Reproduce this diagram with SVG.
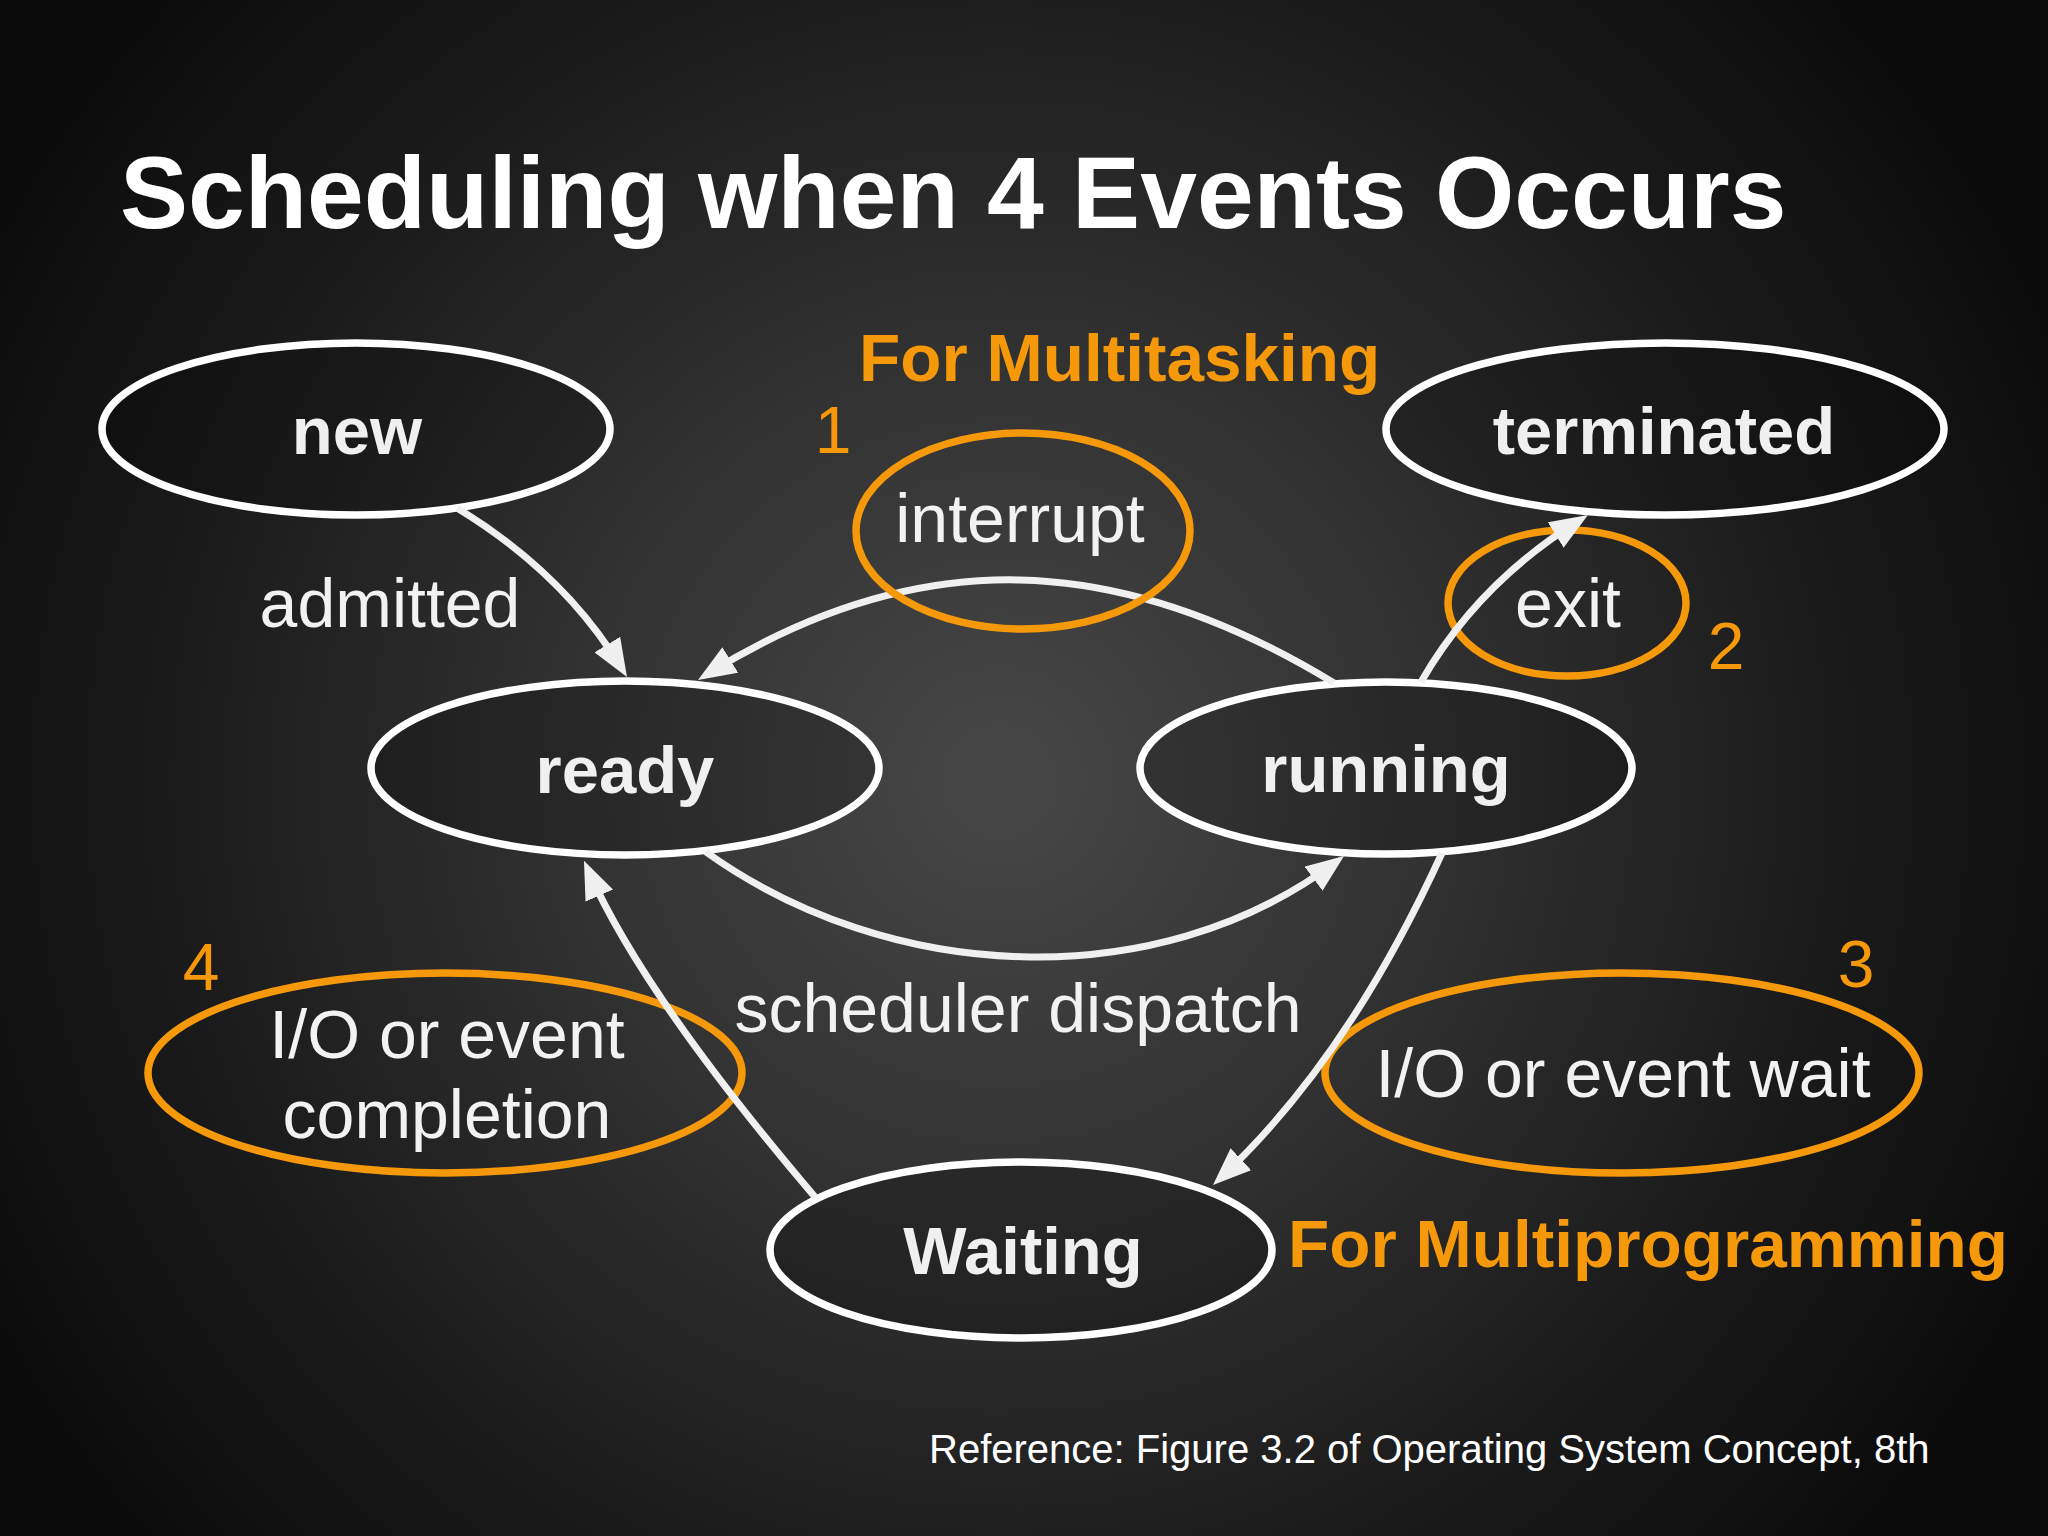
<svg xmlns="http://www.w3.org/2000/svg" width="2048" height="1536" viewBox="0 0 2048 1536">
  <defs>
    <radialGradient id="bg" gradientUnits="userSpaceOnUse" cx="1000" cy="780" r="1150">
      <stop offset="0" stop-color="#474747"/>
      <stop offset="0.35" stop-color="#333333"/>
      <stop offset="0.7" stop-color="#1c1c1c"/>
      <stop offset="1" stop-color="#0b0b0b"/>
    </radialGradient>
    <marker id="arrow" viewBox="0 0 38 30" markerWidth="38" markerHeight="30" refX="28" refY="15" orient="auto" markerUnits="userSpaceOnUse">
      <path d="M0,0 L38,15 L0,30 z" fill="#f0f0f0"/>
    </marker>
    <style>
      .node { fill: #000000; fill-opacity: 0.2; stroke: #ffffff; stroke-width: 7.5; }
      .note { fill: none; stroke: #f5990a; stroke-width: 7.5; }
      .conn { fill: none; stroke: #f0f0f0; stroke-width: 7; marker-end: url(#arrow); }
      .nlabel { font-family: "Liberation Sans", Arial, sans-serif; font-weight: bold; font-size: 67px; fill: #f0f0f0; text-anchor: middle; }
      .label { font-family: "Liberation Sans", Arial, sans-serif; font-size: 68px; fill: #f2f2f2; text-anchor: middle; }
      .num { font-family: "Liberation Sans", Arial, sans-serif; font-size: 66px; fill: #f5990a; text-anchor: middle; }
      .orange { font-family: "Liberation Sans", Arial, sans-serif; font-weight: bold; font-size: 67.5px; fill: #f5990a; }
    </style>
  </defs>

  <rect x="0" y="0" width="2048" height="1536" fill="url(#bg)"/>

  <text x="120" y="228" font-family="Liberation Sans, Arial, sans-serif" font-weight="bold" font-size="102" fill="#ffffff">Scheduling when 4 Events Occurs</text>

  <g id="node-new">
    <ellipse class="node" cx="356" cy="429" rx="254" ry="86"/>
    <text class="nlabel" x="357" y="454">new</text>
  </g>
  <g id="node-terminated">
    <ellipse class="node" cx="1665" cy="429" rx="279" ry="86"/>
    <text class="nlabel" x="1664" y="454">terminated</text>
  </g>
  <g id="node-ready">
    <ellipse class="node" cx="625" cy="768" rx="254" ry="87"/>
    <text class="nlabel" x="625" y="793">ready</text>
  </g>
  <g id="node-running">
    <ellipse class="node" cx="1386" cy="768" rx="246" ry="86"/>
    <text class="nlabel" x="1386" y="792">running</text>
  </g>
  <g id="node-waiting">
    <ellipse class="node" cx="1021" cy="1250" rx="251" ry="88"/>
    <text class="nlabel" x="1023" y="1274">Waiting</text>
  </g>

  <g id="note-completion">
    <ellipse class="note" cx="445" cy="1073" rx="297" ry="100"/>
    <text class="label" x="447" y="1058">I/O or event</text>
    <text class="label" x="447" y="1138">completion</text>
    <text class="num" x="201" y="990">4</text>
  </g>
  <g id="note-wait">
    <ellipse class="note" cx="1622" cy="1073" rx="297" ry="100"/>
    <text class="label" x="1623" y="1097">I/O or event wait</text>
    <text class="num" x="1856" y="987">3</text>
  </g>
  <g id="note-exit">
    <ellipse class="note" cx="1567" cy="603" rx="119" ry="73"/>
    <text class="label" x="1568" y="627">exit</text>
    <text class="num" x="1726" y="669">2</text>
  </g>

  <g id="connectors">
    <path id="c-admitted" class="conn" d="M457,508 Q564,573 621.8,668.5"/>
    <path id="c-interrupt" class="conn" d="M1334,683 C1119,552 920,542 706.5,674.7"/>
    <path id="c-dispatch" class="conn" d="M706,852 C889,983 1155,997 1336,862"/>
    <path id="c-completion" class="conn" d="M815,1197 Q643,995 588,870"/>
    <path id="c-wait" class="conn" d="M1442,853 Q1347.5,1060 1220.3,1178.2"/>
    <path id="c-exit" class="conn" d="M1421,682 Q1478,583 1579.5,520.3"/>
    <text class="label" x="390" y="627">admitted</text>
    <text class="label" x="1018" y="1032">scheduler dispatch</text>
  </g>

  <g id="note-interrupt">
    <ellipse class="note" cx="1023" cy="531" rx="167" ry="98"/>
    <text class="label" x="1020" y="542">interrupt</text>
    <text class="num" x="833" y="453">1</text>
  </g>

  <text class="orange" x="859" y="381">For Multitasking</text>
  <text class="orange" x="1288" y="1267">For Multiprogramming</text>

  <text x="929" y="1463" font-family="Liberation Sans, Arial, sans-serif" font-size="40" fill="#ffffff">Reference: Figure 3.2 of Operating System Concept, 8th</text>
</svg>
